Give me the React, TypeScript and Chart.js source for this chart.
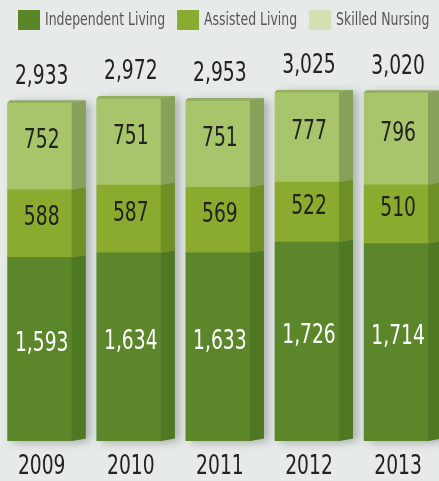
import React, { useEffect, useRef } from "react";
import { Chart, registerables } from "chart.js";

Chart.register(...registerables);

const years = ["2009", "2010", "2011", "2012", "2013"];
const independentLiving = [1593, 1634, 1633, 1726, 1714];
const assistedLiving = [588, 587, 569, 522, 510];
const skilledNursing = [752, 751, 751, 777, 796];
const seriesNames = ["Independent Living", "Assisted Living", "Skilled Nursing"];

const FONT = '"DejaVu Sans Condensed", "DejaVu Sans", sans-serif';
const BG = "#e6ebe9";
const frontColors = ["#5b862a", "#8aab2e", "#a9c56b"];
const sideColors = ["#4f7823", "#6f9024", "#88a05a"];
const topColor = "#93b15a";
const legendColors = ["#5a8527", "#8aab2f", "#d2e2b3"];
const labelColors = ["#ffffff", "#222222", "#222222"];
const DEPTH = 14;
const RISE = 2.5;
const SQUEEZE = 0.8;

const fmt = (v: number) => v.toLocaleString("en-US");

function squeezedText(ctx: any, text: string, x: number, y: number, sx: number, align: string) {
  ctx.save();
  ctx.translate(x, y);
  ctx.scale(sx, 1);
  ctx.textAlign = align;
  ctx.fillText(text, 0, 0);
  ctx.restore();
}

const threeD = {
  id: "threeD",
  beforeDraw(chart: any) {
    const ctx = chart.ctx;
    ctx.save();
    ctx.fillStyle = BG;
    ctx.fillRect(0, 0, chart.width, chart.height);
    ctx.restore();
  },
  beforeDatasetsDraw(chart: any) {
    const ctx = chart.ctx;
    const m0 = chart.getDatasetMeta(0);
    const m2 = chart.getDatasetMeta(chart.data.datasets.length - 1);
    m0.data.forEach((bar: any, i: number) => {
      const p = bar.getProps(["x", "width", "base"], true);
      const topY = m2.data[i].getProps(["y"], true).y;
      const l = p.x - p.width / 2;
      const r = p.x + p.width / 2;
      ctx.save();
      ctx.shadowColor = "rgba(60,70,65,0.35)";
      ctx.shadowBlur = 9;
      ctx.shadowOffsetX = 5;
      ctx.shadowOffsetY = 2;
      ctx.fillStyle = "#8a948f";
      ctx.beginPath();
      ctx.moveTo(l, topY);
      ctx.lineTo(l + 2, topY - RISE);
      ctx.lineTo(r + DEPTH, topY - RISE);
      ctx.lineTo(r + DEPTH, p.base - RISE);
      ctx.lineTo(r, p.base);
      ctx.lineTo(l, p.base);
      ctx.closePath();
      ctx.fill();
      ctx.restore();
    });
  },
  afterDatasetsDraw(chart: any) {
    const ctx = chart.ctx;
    const n = chart.data.datasets.length;
    for (let d = 0; d < n; d++) {
      const meta = chart.getDatasetMeta(d);
      meta.data.forEach((el: any) => {
        const p = el.getProps(["x", "y", "width", "base"], true);
        const r = p.x + p.width / 2;
        const l = p.x - p.width / 2;
        ctx.save();
        ctx.fillStyle = sideColors[d];
        ctx.beginPath();
        ctx.moveTo(r, p.y);
        ctx.lineTo(r + DEPTH, p.y - RISE);
        ctx.lineTo(r + DEPTH, p.base - RISE);
        ctx.lineTo(r, p.base);
        ctx.closePath();
        ctx.fill();
        if (d === n - 1) {
          ctx.fillStyle = topColor;
          ctx.beginPath();
          ctx.moveTo(l, p.y);
          ctx.lineTo(l + 2, p.y - RISE);
          ctx.lineTo(r + DEPTH, p.y - RISE);
          ctx.lineTo(r, p.y);
          ctx.closePath();
          ctx.fill();
        }
        ctx.restore();
      });
    }
    // value labels
    ctx.save();
    ctx.font = "26px " + FONT;
    ctx.textBaseline = "middle";
    for (let d = 0; d < n; d++) {
      const meta = chart.getDatasetMeta(d);
      const values = chart.data.datasets[d].data;
      meta.data.forEach((el: any, i: number) => {
        const p = el.getProps(["x", "y", "base"], true);
        ctx.fillStyle = labelColors[d];
        squeezedText(ctx, fmt(values[i].y), p.x + 2, (p.y + p.base) / 2 - 5, SQUEEZE, "center");
      });
    }
    const top = chart.getDatasetMeta(n - 1);
    top.data.forEach((el: any, i: number) => {
      const p = el.getProps(["x", "y"], true);
      let total = 0;
      for (let d = 0; d < n; d++) total += chart.data.datasets[d].data[i].y;
      ctx.fillStyle = "#222222";
      squeezedText(ctx, fmt(total), p.x + 2, p.y - 26, SQUEEZE, "center");
    });
    // category labels from the x scale
    const xs = chart.scales.x;
    years.forEach((yr, i) => {
      ctx.fillStyle = "#222222";
      squeezedText(ctx, yr, xs.getPixelForValue(i) + 2, 467, SQUEEZE, "center");
    });
    ctx.restore();
  },
  afterDraw(chart: any) {
    // legend
    const ctx = chart.ctx;
    ctx.save();
    ctx.font = "18px " + FONT;
    ctx.textBaseline = "middle";
    const sx = 0.77;
    let x = 18;
    seriesNames.forEach((name, i) => {
      ctx.fillStyle = legendColors[i];
      ctx.fillRect(x, 10, 22, 20);
      x += 22 + 5;
      ctx.fillStyle = "#555555";
      squeezedText(ctx, name, x, 20.5, sx, "left");
      x += ctx.measureText(name).width * sx + 12;
    });
    ctx.restore();
  },
};

export default function App() {
  const ref = useRef<HTMLCanvasElement | null>(null);
  useEffect(() => {
    if (!ref.current) return;
    const series = [independentLiving, assistedLiving, skilledNursing];
    const chart = new Chart(ref.current, {
      type: "bar",
      data: {
        datasets: series.map((s, d) => ({
          label: seriesNames[d],
          data: s.map((v, i) => ({ x: i, y: v })),
          backgroundColor: frontColors[d],
          borderWidth: 0,
          barThickness: 64,
        })),
      },
      options: {
        responsive: false,
        animation: false,
        layout: { padding: { top: 40, bottom: 40, left: 0, right: 0 } },
        plugins: {
          tooltip: { enabled: false },
          legend: { display: false },
        },
        scales: {
          x: {
            type: "linear",
            display: false,
            offset: false,
            stacked: true,
            bounds: "data",
            min: -0.4456,
            max: 4.4815,
            afterFit: (s: any) => {
              s.paddingLeft = 0;
              s.paddingRight = 0;
            },
          },
          y: {
            stacked: true,
            display: false,
            min: 0,
            max: 3480,
          },
        },
      },
      plugins: [threeD],
    });
    return () => chart.destroy();
  }, []);
  return (
    <div style={{ position: "absolute", left: 0, top: 0, width: 439, height: 481 }}>
      <canvas ref={ref} width={439} height={481} />
    </div>
  );
}
